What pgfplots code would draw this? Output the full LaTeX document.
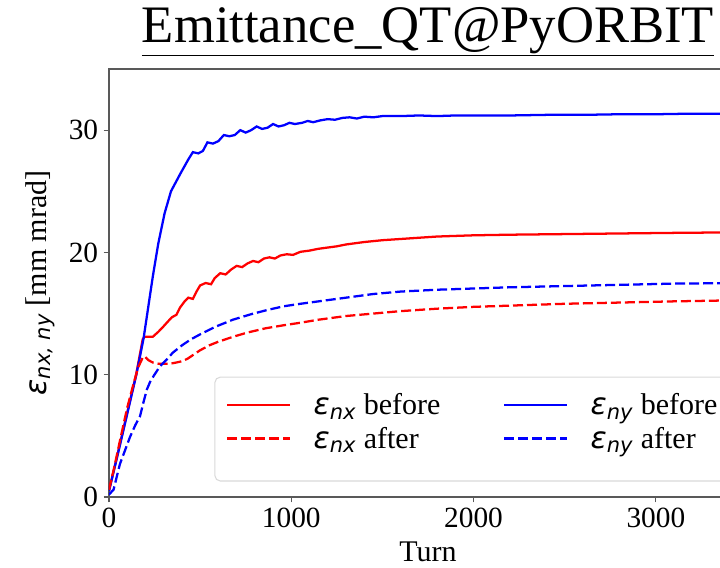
\documentclass[border=0pt]{standalone}
\usepackage{fontspec}
\setmainfont{Liberation Serif}
\newfontfamily\dvs{DejaVu Sans}
\usepackage{pgfplots}
\pgfplotsset{compat=1.18}
\newcommand{\eps}[1]{{\dvs\itshape ε\textsubscript{#1}}}
\begin{document}
\begin{tikzpicture}
\useasboundingbox (0,0) rectangle (540pt,425.25pt);
\clip (0,0) rectangle (540pt,425.25pt);
\begin{axis}[
  at={(81.75pt,52.5pt)}, anchor=south west,
  scale only axis, width=478.5pt, height=321pt,
  xmin=0, xmax=3500, ymin=0, ymax=35,
  xtick={0,1000,2000,3000}, ytick={0,10,20,30},
  xtick pos=bottom, ytick pos=left, tick align=outside,
  major tick length=4pt,
  every tick/.style={black!65, line width=0.8pt},
  axis line style={black!65, line width=1pt},
  /pgf/number format/assume math mode=true,
  /pgf/number format/1000 sep={},
  ticklabel style={font=\fontsize{22}{25}\selectfont},
  label style={font=\fontsize{22.5}{26}\selectfont},
  xlabel={Turn},
  xlabel style={at={(axis description cs:0.5,-0.128)}, anchor=center},
  ylabel={\eps{nx, ny} [mm mrad]},
  ylabel style={at={(axis description cs:-0.108,0.5)}, anchor=center, rotate=0},
  title={\underline{Emittance\_QT@PyORBIT}},
  title style={at={(axis description cs:0.5,1.044)}, anchor=base, font=\fontsize{39.5}{44}\selectfont},
  legend columns=2,
  legend cell align=left,
  legend style={at={(axis description cs:0.1818,0.250)}, anchor=north west,
    draw=none, fill=none, inner sep=0pt, row sep=3.5pt,
    font=\fontsize{22.5}{26}\selectfont,
    /tikz/every odd column/.append style={column sep=15pt},
    /tikz/every even column/.append style={column sep=45pt}},
  legend image code/.code={\draw[#1] (0pt,0pt) -- (47pt,0pt);},
  line width=1.7pt,
]
\draw[black!15, line width=0.8pt, rounded corners=4pt, fill=white]
  (rel axis cs:0.166,0.0374) rectangle (rel axis cs:1.15,0.280);
\addplot[red, no markers] coordinates {
(0,0.5) (50,3.7) (100,6.9) (150,10.1) (185,12.9) (195,13.1) (240,13.1) (270,13.5)
(296,13.9) (320,14.3) (345,14.7) (370,14.9) (390,15.5) (415,16.0) (435,16.3) (460,16.2)
(480,16.8) (500,17.3) (530,17.5) (560,17.4) (580,17.9) (610,18.3) (640,18.2) (670,18.6)
(700,18.9) (730,18.8) (760,19.1) (790,19.3) (820,19.2) (850,19.5) (880,19.6) (910,19.5)
(940,19.75) (975,19.85) (1010,19.8) (1050,20.05) (1100,20.15) (1150,20.3) (1200,20.4)
(1250,20.5) (1300,20.65) (1400,20.85) (1500,21.0) (1600,21.1) (1800,21.3) (2000,21.4)
(2200,21.45) (2500,21.5) (2800,21.55) (3100,21.6) (3500,21.65)
};
\addlegendentry{\eps{nx} before}
\addplot[blue, no markers] coordinates {
(0,0.5) (50,3.6) (100,6.8) (150,10.0) (190,13.0) (220,16.0) (240,18.0) (270,20.7)
(305,23.2) (340,25.0) (390,26.4) (435,27.6) (460,28.2) (490,28.1) (515,28.3) (540,29.0)
(570,28.9) (600,29.1) (630,29.6) (660,29.5) (690,29.6) (720,30.0) (750,29.8) (780,30.0)
(810,30.3) (840,30.1) (870,30.2) (900,30.5) (930,30.3) (960,30.4) (990,30.6) (1020,30.5)
(1060,30.6) (1090,30.75) (1120,30.65) (1160,30.8) (1200,30.9) (1240,30.85) (1280,31.0)
(1320,31.05) (1360,30.95) (1400,31.1) (1450,31.05) (1500,31.15) (1600,31.15) (1700,31.2)
(1800,31.15) (1900,31.2) (2000,31.2) (2200,31.2) (2400,31.25) (2600,31.25) (2800,31.3)
(3000,31.3) (3200,31.35) (3500,31.35)
};
\addlegendentry{\eps{ny} before}
\addplot[red, no markers, dash pattern=on 7.5pt off 3pt] coordinates {
(0,0.6) (30,2.5) (60,4.6) (100,7.3) (130,9.0) (160,10.6) (185,11.4) (195,11.5) (215,11.2)
(240,11.0) (270,10.9) (300,10.9) (335,10.9) (370,11.0) (400,11.1) (430,11.3) (470,11.7)
(500,12.0) (550,12.4) (600,12.7) (680,13.1) (760,13.45) (860,13.8) (960,14.05) (1050,14.25)
(1150,14.5) (1300,14.8) (1450,15.0) (1600,15.2) (1800,15.4) (2000,15.55) (2200,15.65)
(2500,15.8) (2800,15.9) (3100,16.0) (3500,16.1)
};
\addlegendentry{\eps{nx} after}
\addplot[blue, no markers, dash pattern=on 7.5pt off 3pt] coordinates {
(0,0.2) (25,0.6) (60,2.7) (90,3.9) (115,4.9) (145,5.9) (170,6.6) (190,7.8) (208,8.8)
(225,9.4) (245,9.9) (280,10.7) (320,11.3) (350,11.8) (400,12.4) (450,12.9) (500,13.3)
(580,13.9) (680,14.5) (780,14.95) (870,15.3) (960,15.6) (1050,15.8) (1150,16.0) (1300,16.3)
(1450,16.6) (1600,16.8) (1800,16.95) (2000,17.05) (2200,17.15) (2500,17.25) (2800,17.35)
(3100,17.45) (3500,17.5)
};
\addlegendentry{\eps{ny} after}
\end{axis}
\end{tikzpicture}
\end{document}
